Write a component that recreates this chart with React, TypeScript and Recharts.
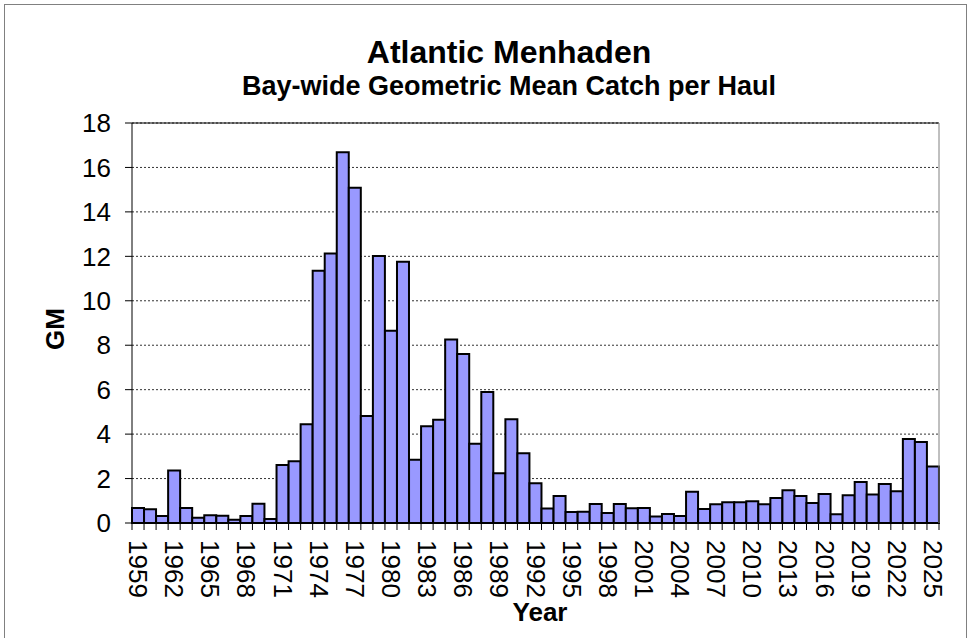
import { BarChart, Bar, XAxis, YAxis, CartesianGrid, ReferenceLine } from 'recharts';

const years = [
  '1959', '1960', '1961', '1962', '1963', '1964', '1965', '1966', '1967', '1968',
  '1969', '1970', '1971', '1972', '1973', '1974', '1975', '1976', '1977', '1978',
  '1979', '1980', '1981', '1982', '1983', '1984', '1985', '1986', '1987', '1988',
  '1989', '1990', '1991', '1992', '1993', '1994', '1995', '1996', '1997', '1998',
  '1999', '2000', '2001', '2002', '2003', '2004', '2005', '2006', '2007', '2008',
  '2009', '2010', '2011', '2012', '2013', '2014', '2015', '2016', '2017', '2018',
  '2019', '2020', '2021', '2022', '2023', '2024', '2025'
];

const gmValues = [
  0.68, 0.62, 0.32, 2.36, 0.68, 0.24, 0.35, 0.33, 0.15, 0.32,
  0.87, 0.18, 2.61, 2.78, 4.44, 11.35, 12.13, 16.68, 15.09, 4.82,
  12.01, 8.65, 11.76, 2.85, 4.35, 4.65, 8.26, 7.61, 3.57, 5.9,
  2.24, 4.67, 3.14, 1.79, 0.65, 1.22, 0.5, 0.51, 0.86, 0.45,
  0.86, 0.66, 0.68, 0.29, 0.41, 0.32, 1.41, 0.63, 0.84, 0.93,
  0.93, 0.98, 0.84, 1.13, 1.47, 1.22, 0.9, 1.31, 0.39, 1.25,
  1.85, 1.28, 1.76, 1.43, 3.78, 3.65, 2.54
];

const yTicks = [0, 2, 4, 6, 8, 10, 12, 14, 16, 18];

const chartData = years.map((year, i) => ({ year, gm: gmValues[i] }));

const FONT = 'Arial, "Liberation Sans", sans-serif';
const W = 969;
const H = 638;
const LEFT_AXIS_W = 132;
const RIGHT_AXIS_W = 30;
const BAND = (W - LEFT_AXIS_W - RIGHT_AXIS_W) / years.length;

// Excel-style ticks: marks at category boundaries, label every 3rd year
function YearTick(props: any) {
  const { x, y, payload } = props;
  const index = props.index ?? payload.index;
  const half = BAND / 2;
  return (
    <g>
      <line x1={x - half} y1={y} x2={x - half} y2={y + 7} stroke="#000" />
      {index === years.length - 1 && (
        <line x1={x + half} y1={y} x2={x + half} y2={y + 7} stroke="#000" />
      )}
      {index % 3 === 0 && (
        <text
          transform={`translate(${x},${y + 17}) rotate(90)`}
          textAnchor="start"
          dominantBaseline="central"
          fontSize={26}
          fontFamily={FONT}
          fill="#000"
        >
          {payload.value}
        </text>
      )}
    </g>
  );
}

export default function App() {
  return (
    <div style={{ position: 'absolute', left: 0, top: 0, width: W, height: H, overflow: 'hidden', background: '#fff', fontFamily: FONT }}>
      <div style={{ position: 'absolute', left: 4, top: 4, width: 961, height: 700, border: '1px solid #808080' }} />
      <div style={{ position: 'absolute', left: 509, top: 36, transform: 'translateX(-50%)', whiteSpace: 'nowrap', fontSize: 32, lineHeight: '32px', fontWeight: 'bold' }}>
        Atlantic Menhaden
      </div>
      <div style={{ position: 'absolute', left: 509, top: 73, transform: 'translateX(-50%)', whiteSpace: 'nowrap', fontSize: 27, lineHeight: '27px', fontWeight: 'bold' }}>
        Bay-wide Geometric Mean Catch per Haul
      </div>
      <div style={{ position: 'absolute', left: 0, top: 0 }}>
        <BarChart
          width={W}
          height={H}
          data={chartData}
          margin={{ top: 123, right: 0, bottom: 0, left: 0 }}
          barCategoryGap={0}
          barGap={0}
        >
          <CartesianGrid horizontal vertical={false} stroke="#333" strokeDasharray="2 2" />
          <XAxis
            dataKey="year"
            interval={0}
            height={115}
            tickSize={0}
            tickMargin={0}
            tickLine={false}
            axisLine={{ stroke: '#000', strokeWidth: 1 }}
            tick={<YearTick />}
            label={{
              content: () => (
                <text x={540} y={621} textAnchor="middle" fontSize={26} fontWeight="bold" fontFamily={FONT} fill="#000">
                  Year
                </text>
              )
            }}
          />
          <YAxis
            width={LEFT_AXIS_W}
            domain={[0, 18]}
            ticks={yTicks}
            interval={0}
            tickSize={7}
            tickMargin={14}
            axisLine={{ stroke: '#000' }}
            tickLine={{ stroke: '#000' }}
            tick={{ fontSize: 26, fill: '#000', fontFamily: FONT }}
            label={{
              content: () => (
                <text
                  x={55}
                  y={329}
                  transform="rotate(-90 55 329)"
                  textAnchor="middle"
                  dominantBaseline="central"
                  fontSize={26}
                  fontWeight="bold"
                  fontFamily={FONT}
                  fill="#000"
                >
                  GM
                </text>
              )
            }}
          />
          <YAxis
            yAxisId="r"
            orientation="right"
            width={RIGHT_AXIS_W}
            domain={[0, 18]}
            tick={false}
            tickLine={false}
            axisLine={{ stroke: '#808080' }}
          />
          <ReferenceLine y={18} stroke="#000" strokeWidth={1} />
          <Bar dataKey="gm" fill="#9999FF" stroke="#000" strokeWidth={2} isAnimationActive={false} />
        </BarChart>
      </div>
    </div>
  );
}
